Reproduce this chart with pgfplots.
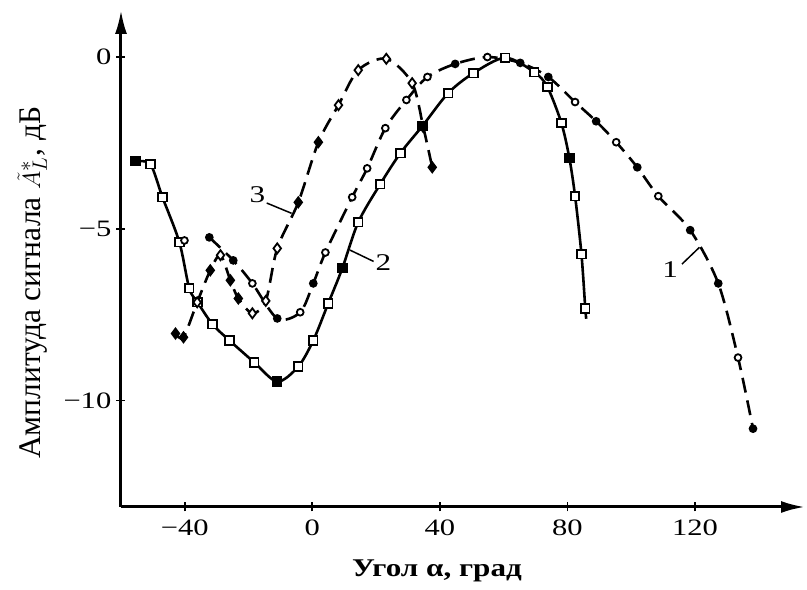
\documentclass[border=0pt]{standalone}
\usepackage{fontspec}
\setmainfont{Liberation Serif}
\newfontfamily\tickfont[FakeStretch=1.3]{Liberation Serif}
\newfontfamily\xlabfont[FakeStretch=1.22]{Liberation Serif}
\usepackage{pgfplots}
\pgfplotsset{compat=1.18}
\usetikzlibrary{arrows.meta}

% curve 2 (solid line, squares)
\pgfplotstableread{
x y
-56.5 -2.95
-55.5 -3.03
-50.8 -3.12
-47.0 -4.08
-41.7 -5.39
-38.6 -6.73
-36.0 -7.14
-31.3 -7.78
-26.0 -8.25
-18.2 -8.89
-11.0 -9.45
-4.4 -9.01
0.3 -8.25
5.0 -7.17
9.4 -6.15
14.4 -4.81
21.3 -3.70
27.6 -2.80
34.5 -2.01
42.6 -1.05
50.5 -0.47
60.5 -0.02
69.6 -0.44
73.7 -0.87
78.1 -1.92
80.6 -2.94
82.4 -4.05
84.4 -5.74
85.6 -7.32
85.9 -7.62
}\curveB

% curve 1 (dashed line, circles)
\pgfplotstableread{
x y
-32.3 -5.25
-24.8 -5.92
-18.8 -6.59
-11.0 -7.61
-3.8 -7.43
0.3 -6.59
4.1 -5.69
12.5 -4.08
17.2 -3.24
22.9 -2.07
29.5 -1.25
36.1 -0.58
44.8 -0.20
54.9 0.0
65.2 -0.17
74.0 -0.58
82.4 -1.31
89.0 -1.87
95.3 -2.48
101.9 -3.21
108.5 -4.05
118.5 -5.04
127.3 -6.59
133.5 -8.75
138.2 -10.82
}\curveA

% curve 3 (dashed line, diamonds)
\pgfplotstableread{
x y
-42.9 -8.05
-40.4 -8.16
-36.1 -7.14
-32.0 -6.21
-28.8 -5.77
-25.7 -6.50
-23.2 -7.03
-18.8 -7.46
-14.6 -7.10
-11.0 -5.57
-4.4 -4.23
1.9 -2.48
8.2 -1.40
14.4 -0.38
23.2 -0.05
31.3 -0.76
34.8 -2.04
37.6 -3.21
}\curveC

\begin{document}
\begin{tikzpicture}
\begin{axis}[
  scale only axis, width=684pt, height=497pt,
  xmin=-60, xmax=154.5, ymin=-13.1, ymax=1.37,
  axis x line=bottom, axis y line=left,
  axis line style={line width=3pt, -{Latex[length=24pt,width=12pt]}},
  xtick={-40,0,40,80,120}, xticklabels={−40,0,40,80,120},
  ytick={-10,-5,0}, yticklabels={−10,−5,0},
  tick align=center, major tick length=9pt,
  tick style={line width=1.8pt, black},
  ticklabel style={font=\tickfont\fontsize{23.5}{26}\selectfont, inner sep=0pt},
  xticklabel style={anchor=north, yshift=-8pt},
  yticklabel style={anchor=east, xshift=-5pt},
  xlabel={Угол α, град},
  xlabel style={font=\xlabfont\bfseries\fontsize{25.5}{28}\selectfont, inner sep=0pt,
    at={(axis description cs:0.462,-0.139)}, anchor=base},
  ylabel={Амплитуда сигнала $\tilde{A}^{*}_{L}$, дБ},
  ylabel style={font=\fontsize{31.5}{34}\selectfont, inner sep=0pt,
    at={(axis description cs:-0.108,0.451)}, anchor=south, rotate=0},
  clip=false,
  every axis plot/.append style={black},
]
% lines
\addplot[line width=2.6pt, smooth, tension=0.5] table {\curveB};
\addplot[line width=2.6pt, dash pattern=on 15pt off 8pt, smooth, tension=0.5] table {\curveA};
\addplot[line width=2.6pt, dash pattern=on 15pt off 8pt, smooth, tension=0.5] table {\curveC};
% markers, open
\addplot[only marks, mark=square*, mark size=4.3pt, mark options={fill=white, line width=1.8pt}]
coordinates {(-50.8,-3.12) (-47.0,-4.08) (-41.7,-5.39) (-38.6,-6.73) (-36.0,-7.14)
(-31.3,-7.78) (-26.0,-8.25) (-18.2,-8.89) (-4.4,-9.01) (0.3,-8.25) (5.0,-7.17)
(14.4,-4.81) (21.3,-3.70) (27.6,-2.80) (42.6,-1.05) (50.5,-0.47) (60.5,-0.02)
(69.6,-0.44) (73.7,-0.87) (78.1,-1.92) (82.4,-4.05) (84.4,-5.74) (85.6,-7.32)};
% markers, filled
\addplot[only marks, mark=square*, mark size=4.3pt, mark options={fill=black, line width=1.8pt}]
coordinates {(-55.5,-3.03) (-11.0,-9.45) (9.4,-6.15) (34.5,-2.01) (80.6,-2.94)};
\addplot[only marks, mark=*, mark size=3.4pt, mark options={fill=white, line width=1.8pt}]
coordinates {(-40.1,-5.34) (-18.8,-6.59) (-3.8,-7.43) (4.1,-5.69) (12.5,-4.08) (17.2,-3.24)
(22.9,-2.07) (29.5,-1.25) (36.1,-0.58) (54.9,0.0) (82.4,-1.31) (95.3,-2.48)
(108.5,-4.05) (133.5,-8.75)};
\addplot[only marks, mark=*, mark size=3.4pt, mark options={fill=black, line width=1.8pt}]
coordinates {(-32.3,-5.25) (-24.8,-5.92) (-11.0,-7.61) (0.3,-6.59) (44.8,-0.20)
(65.2,-0.17) (74.0,-0.58) (89.0,-1.87) (101.9,-3.21) (118.5,-5.04) (127.3,-6.59)
(138.2,-10.82)};
\addplot[only marks, mark=diamond*, mark size=5pt, mark options={fill=white, line width=1.8pt}]
coordinates {(-36.1,-7.14) (-28.8,-5.77) (-18.8,-7.46) (-14.6,-7.10) (-11.0,-5.57)
(8.2,-1.40) (14.4,-0.38) (23.2,-0.05) (31.3,-0.76)};
\addplot[only marks, mark=diamond*, mark size=5pt, mark options={fill=black, line width=1.8pt}]
coordinates {(-42.9,-8.05) (-40.4,-8.16) (-32.0,-6.21) (-25.7,-6.50) (-23.2,-7.03)
(-4.4,-4.23) (1.9,-2.48) (34.8,-2.04) (37.6,-3.21)};
% curve labels with leaders
\node[font=\tickfont\fontsize{24}{26}\selectfont] at (axis cs:-17.2,-4.02) {3};
\draw[line width=1.5pt] (axis cs:-14.3,-4.25) -- (axis cs:-6.5,-4.55);
\node[font=\tickfont\fontsize{24}{26}\selectfont] at (axis cs:22.3,-5.98) {2};
\draw[line width=1.5pt] (axis cs:11.8,-5.62) -- (axis cs:19.2,-5.95);
\node[font=\tickfont\fontsize{24}{26}\selectfont] at (axis cs:112.2,-6.2) {1};
\draw[line width=1.5pt] (axis cs:115.9,-6.03) -- (axis cs:121.4,-5.54);
\end{axis}
\pgfresetboundingbox
\path[use as bounding box] ([xshift=-121pt,yshift=10pt]current axis.north west)
  rectangle ([xshift=2pt,yshift=-83pt]current axis.south east);
\end{tikzpicture}
\end{document}
